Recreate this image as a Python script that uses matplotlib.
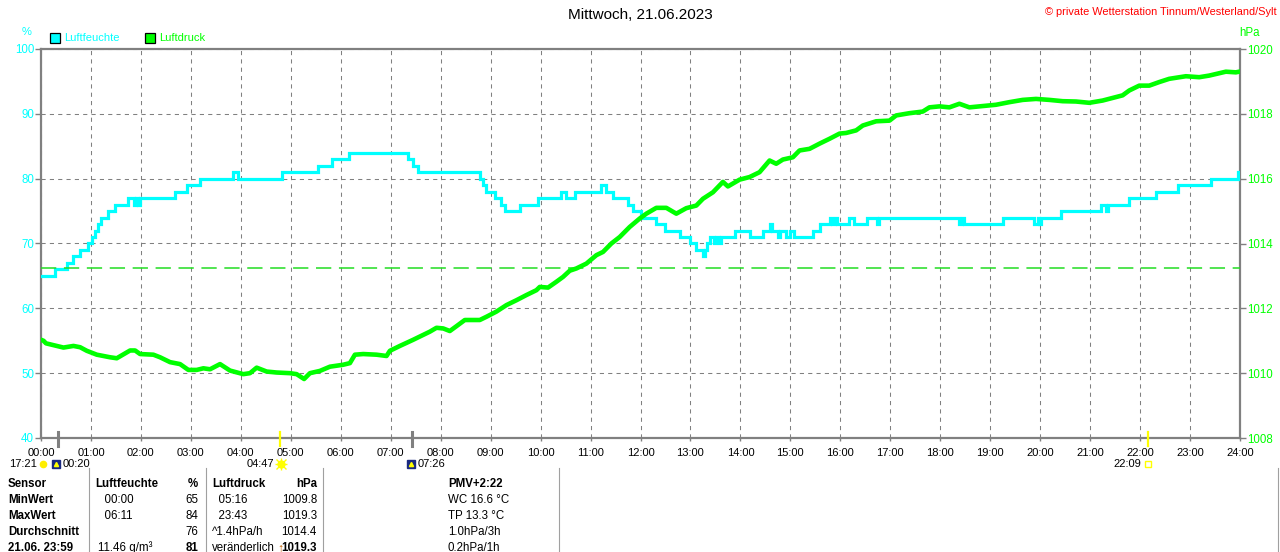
import matplotlib
matplotlib.use("Agg")
import matplotlib.pyplot as plt
import matplotlib.transforms as mtransforms
from matplotlib.lines import Line2D
from matplotlib.patches import Rectangle

plt.rcParams['font.family'] = ['Liberation Sans', 'DejaVu Sans']

W, H = 1280, 552
CYAN = '#00ffff'
GREEN = '#00ff00'
GRAY = '#808080'

title = 'Mittwoch, 21.06.2023'
copyright_text = '\u00a9 private Wetterstation Tinnum/Westerland/Sylt'

# Luftfeuchte (%), Stufenwerte ab Uhrzeit
rh_times = ['00:00', '00:17', '00:31', '00:39', '00:47', '00:57', '01:01', '01:05',
            '01:09', '01:12', '01:20', '01:29', '01:45', '01:52', '01:54', '01:57',
            '01:59', '02:41', '02:55', '03:11', '03:51', '03:57', '04:49', '05:33',
            '05:49', '06:10', '07:21', '07:27', '07:33', '08:47', '08:51', '08:55',
            '09:05', '09:13', '09:17', '09:35', '09:57', '10:25', '10:30', '10:41',
            '11:12', '11:19', '11:27', '11:45', '11:51', '12:00', '12:19', '12:29',
            '12:47', '12:59', '13:07', '13:15', '13:18', '13:20', '13:24', '13:28',
            '13:31', '13:34', '13:37', '13:53', '14:11', '14:27', '14:36', '14:38',
            '14:45', '14:48', '14:55', '15:00', '15:04', '15:27', '15:35', '15:47',
            '15:50', '15:53', '15:56', '16:10', '16:16', '16:32', '16:44', '16:47',
            '18:23', '18:26', '18:29', '19:15', '19:53', '19:57', '19:59', '20:01',
            '20:25', '21:13', '21:19', '21:22', '21:47', '22:19', '22:45', '23:25',
            '23:58', '23:59']
rh_values = [65, 66, 67, 68, 69, 70, 71, 72,
             73, 74, 75, 76, 77, 76, 77, 76,
             77, 78, 79, 80, 81, 80, 81, 82,
             83, 84, 83, 82, 81, 80, 79, 78,
             77, 76, 75, 76, 77, 78, 77, 78,
             79, 78, 77, 76, 75, 74, 73, 72,
             71, 70, 69, 68, 69, 70, 71, 70,
             71, 70, 71, 72, 71, 72, 73, 72,
             71, 72, 71, 72, 71, 72, 73, 74,
             73, 74, 73, 74, 73, 74, 73, 74,
             73, 74, 73, 74, 73, 74, 73, 74,
             75, 76, 75, 76, 77, 78, 79, 80,
             81, 81]

# Luftdruck (hPa)
p_times = ['00:00', '00:03', '00:06', '00:27', '00:39', '00:47', '00:55', '01:07',
           '01:23', '01:31', '01:47', '01:53', '01:59', '02:15', '02:23', '02:35',
           '02:47', '02:57', '03:07', '03:15', '03:23', '03:35', '03:47', '04:03',
           '04:11', '04:19', '04:31', '04:43', '04:59', '05:07', '05:16', '05:23',
           '05:35', '05:47', '06:03', '06:11', '06:17', '06:27', '06:43', '06:55',
           '06:59', '07:11', '07:27', '07:47', '07:55', '08:03', '08:11', '08:19',
           '08:29', '08:47', '08:55', '09:07', '09:19', '09:31', '09:43', '09:55',
           '09:59', '10:09', '10:19', '10:27', '10:35', '10:43', '10:55', '11:07',
           '11:15', '11:25', '11:35', '11:47', '11:59', '12:07', '12:19', '12:31',
           '12:43', '12:55', '13:07', '13:15', '13:27', '13:39', '13:45', '13:59',
           '14:11', '14:23', '14:35', '14:43', '14:51', '15:03', '15:11', '15:23',
           '15:35', '15:47', '15:59', '16:07', '16:19', '16:27', '16:43', '16:59',
           '17:07', '17:23', '17:39', '17:47', '17:59', '18:11', '18:23', '18:35',
           '18:51', '19:07', '19:23', '19:39', '19:55', '20:11', '20:27', '20:43',
           '20:59', '21:15', '21:27', '21:39', '21:47', '21:59', '22:11', '22:23',
           '22:35', '22:55', '23:11', '23:23', '23:43', '23:55', '23:59']
p_values = [1011.03, 1011.00, 1010.92, 1010.79, 1010.84, 1010.80, 1010.69, 1010.57,
            1010.49, 1010.46, 1010.70, 1010.70, 1010.59, 1010.57, 1010.49, 1010.34,
            1010.28, 1010.10, 1010.10, 1010.15, 1010.12, 1010.28, 1010.08, 1009.97,
            1010.00, 1010.17, 1010.05, 1010.02, 1010.00, 1009.97, 1009.82, 1010.00,
            1010.07, 1010.20, 1010.26, 1010.31, 1010.57, 1010.59, 1010.57, 1010.53,
            1010.69, 1010.84, 1011.03, 1011.28, 1011.40, 1011.38, 1011.30, 1011.45,
            1011.64, 1011.64, 1011.74, 1011.90, 1012.10, 1012.25, 1012.41, 1012.56,
            1012.66, 1012.64, 1012.82, 1012.97, 1013.16, 1013.23, 1013.38, 1013.64,
            1013.74, 1014.00, 1014.20, 1014.51, 1014.77, 1014.92, 1015.10, 1015.10,
            1014.92, 1015.09, 1015.17, 1015.38, 1015.58, 1015.90, 1015.76, 1015.97,
            1016.05, 1016.20, 1016.56, 1016.46, 1016.59, 1016.66, 1016.87, 1016.92,
            1017.08, 1017.23, 1017.39, 1017.41, 1017.49, 1017.64, 1017.77, 1017.79,
            1017.95, 1018.02, 1018.07, 1018.20, 1018.23, 1018.20, 1018.31, 1018.20,
            1018.24, 1018.28, 1018.36, 1018.43, 1018.46, 1018.43, 1018.39, 1018.38,
            1018.34, 1018.41, 1018.49, 1018.57, 1018.72, 1018.87, 1018.87, 1018.98,
            1019.08, 1019.16, 1019.13, 1019.18, 1019.30, 1019.28, 1019.30]

p_reference = 1013.25

hour_labels = ['%02d:00' % h for h in range(25)]
rh_ticks = [40, 50, 60, 70, 80, 90, 100]
p_ticks = [1008, 1010, 1012, 1014, 1016, 1018, 1020]

# Sonne / Mond
moon_times = ['00:20', '07:26']
sun_times = ['04:47', '22:09']

# Tabelle
row_labels = ['Sensor', 'MinWert', 'MaxWert', 'Durchschnitt', '21.06. 23:59']
rh_col_time = ['Luftfeuchte', '  00:00', '  06:11', '', '11.46 g/m\u00b3']
rh_col_val = ['%', '65', '84', '76', '81']
p_col_time = ['Luftdruck', '  05:16', '  23:43', '^1.4hPa/h', 'ver\u00e4nderlich']
p_col_val = ['hPa', '1009.8', '1019.3', '1014.4', '1019.3']
extra_col = ['PMV+2:22', 'WC 16.6 \u00b0C', 'TP 13.3 \u00b0C', '1.0hPa/3h', '0.2hPa/1h']


def hours(s):
    h, m = s.split(':')
    return int(h) + int(m) / 60.0


def fx(px):
    return px / W


def fy(py):
    return 1 - py / H


fig = plt.figure(figsize=(W / 100, H / 100), dpi=100)
fig.patch.set_facecolor('white')

ax = fig.add_axes([fx(41), 1 - 438 / H, 1199 / W, 389 / H])
ax2 = ax.twinx()

ax.set_xlim(0, 24)
ax.set_ylim(40, 100)
ax2.set_ylim(1008, 1020)

ax.set_xticks(range(25))
ax.set_xticklabels(hour_labels)
ax.set_yticks(rh_ticks)
ax2.set_yticks(p_ticks)

ax.grid(True, color=GRAY, linestyle=(0, (4, 4)), linewidth=0.75)

for sp in ax.spines.values():
    sp.set_color(GRAY)
    sp.set_linewidth(1.6)
for sp in ax2.spines.values():
    sp.set_visible(False)

ax.tick_params(axis='y', colors=GRAY, labelcolor=CYAN, length=4, width=1,
               labelsize=8.3, pad=1)
ax.tick_params(axis='x', colors=GRAY, labelcolor='black', length=2, width=1,
               labelsize=8, pad=5)
ax2.tick_params(axis='y', colors=GRAY, labelcolor=GREEN, length=4, width=1,
                labelsize=8.3, pad=1)

ax.plot([hours(t) for t in rh_times], rh_values, color=CYAN, linewidth=2.3,
        drawstyle='steps-post', solid_joinstyle='miter', zorder=3)
ax2.axhline(p_reference, color='#22dd22', linewidth=1.1, linestyle=(0, (10, 5)), zorder=2)
ax2.plot([hours(t) for t in p_times], p_values, color=GREEN, linewidth=3.3, zorder=4)

# Markierungen Sonne/Mond an der Zeitachse
trans = mtransforms.blended_transform_factory(ax.transData, ax.transAxes)
for t in moon_times:
    ax.plot([hours(t), hours(t)], [-0.021, 0.016], color=GRAY, linewidth=2.2,
            transform=trans, clip_on=False, zorder=6)
for t in sun_times:
    ax.plot([hours(t), hours(t)], [-0.021, 0.016], color='#ffff00', linewidth=1.6,
            transform=trans, clip_on=False, zorder=6)

icon_y = -26 / 389
pt = 0.72
lbl = dict(fontsize=8, va='center', xycoords=trans, textcoords='offset points',
           annotation_clip=False)
ax.annotate('17:21', xy=(0, icon_y), xytext=(-4 * pt, 0), ha='right', **lbl)
ax.plot([0.04], [icon_y], marker='o', markersize=4.5, color='#ffee00', transform=trans,
        clip_on=False)
m0, m1 = hours(moon_times[0]), hours(moon_times[1])
for m in (m0, m1):
    ax.plot([m - 0.03], [icon_y], marker='s', markersize=6, color='#1a2a80',
            transform=trans, clip_on=False)
    ax.plot([m - 0.03], [icon_y], marker='^', markersize=3, color='#ffff00',
            transform=trans, clip_on=False)
ax.annotate(moon_times[0], xy=(m0, icon_y), xytext=(5 * pt, 0), ha='left', **lbl)
ax.annotate(moon_times[1], xy=(m1, icon_y), xytext=(5 * pt, 0), ha='left', **lbl)
s0, s1 = hours(sun_times[0]), hours(sun_times[1])
ax.plot([s0 + 0.03], [icon_y], marker='o', markersize=5, color='#ffff00',
        transform=trans, clip_on=False)
ax.plot([s0 + 0.03], [icon_y], marker='+', markersize=9, color='#ffff00', mew=1,
        transform=trans, clip_on=False)
ax.plot([s0 + 0.03], [icon_y], marker='x', markersize=7, color='#ffff00', mew=1,
        transform=trans, clip_on=False)
ax.annotate(sun_times[0], xy=(s0, icon_y), xytext=(-6 * pt, 0), ha='right', **lbl)
ax.plot([s1], [icon_y], marker='s', markersize=5, mfc='none', mec='#ffff00', mew=1,
        transform=trans, clip_on=False)
ax.annotate(sun_times[1], xy=(s1, icon_y), xytext=(-6 * pt, 0), ha='right', **lbl)

# Titel, Copyright, Achsenbeschriftungen
fig.text(0.5, fy(15), title, ha='center', va='center', fontsize=11)
fig.text(fx(1277), fy(12), copyright_text, ha='right', va='center', fontsize=7.9,
         color='#ff0000')
fig.text(fx(27), fy(32), '%', ha='center', va='center', fontsize=8, color=CYAN)
fig.text(fx(1250), fy(33), 'hPa', ha='center', va='center', fontsize=8.3, color=GREEN)

# Legende
fig.add_artist(Rectangle((fx(50), fy(43)), 10 / W, 10 / H, facecolor=CYAN,
                         edgecolor='black', linewidth=0.9, transform=fig.transFigure))
fig.text(fx(64), fy(38), 'Luftfeuchte', ha='left', va='center', fontsize=8, color=CYAN)
fig.add_artist(Rectangle((fx(145), fy(43)), 10 / W, 10 / H, facecolor=GREEN,
                         edgecolor='black', linewidth=0.9, transform=fig.transFigure))
fig.text(fx(159), fy(38), 'Luftdruck', ha='left', va='center', fontsize=8, color=GREEN)

# Tabelle unten
row_y = [484, 500, 516, 532, 548]
for sx in (89, 206, 323, 559, 1278):
    fig.add_artist(Line2D([fx(sx), fx(sx)], [fy(468), fy(552)], color='#a0a0a0',
                          linewidth=0.8, transform=fig.transFigure))

fs = 8.3
for i, y in enumerate(row_y):
    head = i == 0
    last = i == len(row_y) - 1
    fig.text(fx(8), fy(y), row_labels[i], ha='left', va='center', fontsize=fs,
             fontweight='bold')
    fig.text(fx(95 if head else 98), fy(y), rh_col_time[i], ha='left', va='center',
             fontsize=fs, fontweight='bold' if head else 'normal')
    fig.text(fx(198), fy(y), rh_col_val[i], ha='right', va='center', fontsize=fs,
             fontweight='bold' if (head or last) else 'normal')
    fig.text(fx(212), fy(y), p_col_time[i], ha='left', va='center', fontsize=fs,
             fontweight='bold' if head else 'normal')
    fig.text(fx(317), fy(y), p_col_val[i], ha='right', va='center', fontsize=fs,
             fontweight='bold' if (head or last) else 'normal')
    fig.text(fx(448), fy(y), extra_col[i], ha='left', va='center', fontsize=fs,
             fontweight='bold' if head else 'normal')

fig.text(fx(280), fy(row_y[-1]), '\u2191', ha='center', va='center', fontsize=9,
         fontweight='bold', color='#c06000')

fig.savefig('out.png', dpi=100)
